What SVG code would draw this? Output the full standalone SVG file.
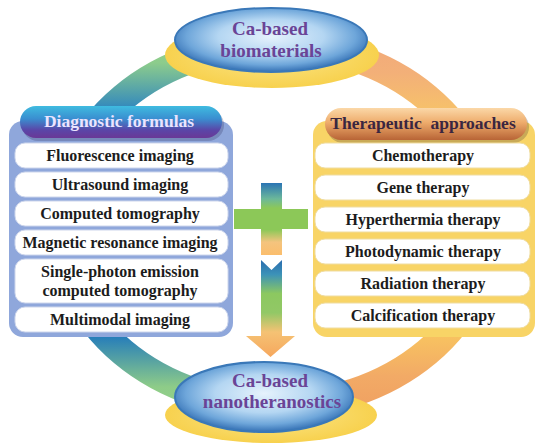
<svg xmlns="http://www.w3.org/2000/svg" width="556" height="446" viewBox="0 0 556 446">
<defs>
<style>
.row{fill:#ffffff;stroke:#cdd6ec;stroke-width:1}
.rrow{fill:#ffffff;stroke:#efdca0;stroke-width:1}
.t{font-family:"Liberation Serif","Times New Roman",serif;font-weight:bold;font-size:16px;fill:#1c1c1c;text-anchor:middle}
.h{font-family:"Liberation Serif","Times New Roman",serif;font-weight:bold;font-size:17.5px;text-anchor:middle}
.e{font-family:"Liberation Serif","Times New Roman",serif;font-weight:bold;font-size:19px;fill:#6a4496;text-anchor:middle}
</style>
<linearGradient id="gLeft" gradientUnits="userSpaceOnUse" x1="0" y1="45" x2="0" y2="405">
<stop offset="0" stop-color="#92d08a"/>
<stop offset="0.05" stop-color="#8ccc8c"/>
<stop offset="0.18" stop-color="#2f86bf"/>
<stop offset="0.5" stop-color="#1d72b8"/>
<stop offset="0.8" stop-color="#1f78bd"/>
<stop offset="0.95" stop-color="#8ecc88"/>
<stop offset="1" stop-color="#92d08a"/>
</linearGradient>
<linearGradient id="gRight" gradientUnits="userSpaceOnUse" x1="0" y1="45" x2="0" y2="405">
<stop offset="0" stop-color="#f2aa7a"/>
<stop offset="0.08" stop-color="#f3b078"/>
<stop offset="0.2" stop-color="#f7c468"/>
<stop offset="0.8" stop-color="#f8c460"/>
<stop offset="0.92" stop-color="#f2aa66"/>
<stop offset="1" stop-color="#f0a262"/>
</linearGradient>
<radialGradient id="gBlue" cx="0.5" cy="0.45" r="0.55">
<stop offset="0" stop-color="#e6f2fc"/>
<stop offset="0.5" stop-color="#b4d6f2"/>
<stop offset="0.8" stop-color="#6ea6da"/>
<stop offset="1" stop-color="#3470b4"/>
</radialGradient>
<radialGradient id="gYel" cx="0.5" cy="0.5" r="0.55">
<stop offset="0" stop-color="#fbe68a"/>
<stop offset="1" stop-color="#f7cf48"/>
</radialGradient>
<linearGradient id="gDiag" x1="0" y1="0" x2="0" y2="1">
<stop offset="0" stop-color="#3fbbe0"/>
<stop offset="0.4" stop-color="#3a8ed0"/>
<stop offset="0.75" stop-color="#5a46a8"/>
<stop offset="1" stop-color="#6a3896"/>
</linearGradient>
<linearGradient id="gTher" x1="0" y1="0" x2="0" y2="1">
<stop offset="0" stop-color="#fbd8a8"/>
<stop offset="0.45" stop-color="#eeac6c"/>
<stop offset="1" stop-color="#b86436"/>
</linearGradient>
<linearGradient id="gCross" gradientUnits="userSpaceOnUse" x1="0" y1="183" x2="0" y2="255">
<stop offset="0" stop-color="#2a74b4"/>
<stop offset="0.22" stop-color="#6cb89a"/>
<stop offset="0.35" stop-color="#8cc858"/>
<stop offset="0.65" stop-color="#8cc858"/>
<stop offset="0.82" stop-color="#f4c47e"/>
<stop offset="1" stop-color="#fbbd6c"/>
</linearGradient>
<linearGradient id="gArrow" gradientUnits="userSpaceOnUse" x1="0" y1="260" x2="0" y2="356">
<stop offset="0" stop-color="#2a6cae"/>
<stop offset="0.15" stop-color="#3c92b8"/>
<stop offset="0.35" stop-color="#8cc860"/>
<stop offset="0.55" stop-color="#92c866"/>
<stop offset="0.75" stop-color="#f5c274"/>
<stop offset="1" stop-color="#f6a85e"/>
</linearGradient>
</defs>
<rect width="556" height="446" fill="#ffffff"/>

<g id="connectors">
<path d="M 275 45 A 215 180 0 0 0 275 405" fill="none" stroke="url(#gLeft)" stroke-width="28"/>
<path d="M 275 45 A 215 180 0 0 1 275 405" fill="none" stroke="url(#gRight)" stroke-width="28"/>
<path d="M 261 260 L 271.5 270 L 282 260 L 282 336 L 295 336 L 270.5 357 L 246 336 L 261 336 Z" fill="url(#gArrow)"/>
</g>

<g id="biomaterials">
<ellipse cx="272" cy="55" rx="107" ry="33" fill="url(#gYel)"/>
<ellipse cx="271" cy="40" rx="96" ry="32" fill="url(#gBlue)" stroke="#3a78b8" stroke-width="2"/>
<text class="e" x="270" y="35">Ca-based</text>
<text class="e" x="271" y="57">biomaterials</text>
</g>

<g id="nanotheranostics">
<ellipse cx="271" cy="415" rx="106" ry="28" fill="url(#gYel)"/>
<ellipse cx="264" cy="397" rx="89" ry="35" fill="url(#gBlue)" stroke="#3a78b8" stroke-width="2"/>
<text class="e" x="270" y="387">Ca-based</text>
<text class="e" x="272" y="408">nanotheranostics</text>
</g>

<g id="diagnostic">
<rect x="9" y="121" width="224" height="216" rx="14" fill="#8fa7db"/>
<rect x="22" y="109" width="202" height="32" rx="16" fill="#2a2a5a" opacity="0.25"/>
<rect x="20" y="106" width="202" height="32" rx="16" fill="url(#gDiag)"/>
<text class="h" x="119" y="127" fill="#ebe4ff">Diagnostic formulas</text>
<rect class="row" x="15" y="143" width="213" height="25" rx="10"/>
<rect class="row" x="15" y="172" width="213" height="25" rx="10"/>
<rect class="row" x="15" y="201" width="213" height="25" rx="10"/>
<rect class="row" x="15" y="230" width="213" height="25" rx="10"/>
<rect class="row" x="15" y="259" width="213" height="44" rx="10"/>
<rect class="row" x="15" y="307" width="213" height="25" rx="10"/>
<text class="t" x="120" y="161">Fluorescence imaging</text>
<text class="t" x="120" y="190">Ultrasound imaging</text>
<text class="t" x="120" y="219">Computed tomography</text>
<text class="t" x="120" y="248">Magnetic resonance imaging</text>
<text class="t" x="120" y="277">Single-photon emission</text>
<text class="t" x="120" y="296">computed tomography</text>
<text class="t" x="120" y="325">Multimodal imaging</text>
</g>

<g id="therapeutic">
<rect x="313" y="121" width="222" height="216" rx="14" fill="#f8d466"/>
<rect x="327" y="111" width="202" height="32" rx="16" fill="#3a2a2a" opacity="0.25"/>
<rect x="325" y="108" width="202" height="32" rx="16" fill="url(#gTher)"/>
<text class="h" x="423" y="129" fill="#3a2640" xml:space="preserve">Therapeutic  approaches</text>
<rect class="rrow" x="315" y="143" width="215" height="25" rx="10"/>
<rect class="rrow" x="315" y="175" width="215" height="25" rx="10"/>
<rect class="rrow" x="315" y="207" width="215" height="25" rx="10"/>
<rect class="rrow" x="315" y="239" width="215" height="25" rx="10"/>
<rect class="rrow" x="315" y="271" width="215" height="25" rx="10"/>
<rect class="rrow" x="315" y="303" width="215" height="25" rx="10"/>
<text class="t" x="423" y="161">Chemotherapy</text>
<text class="t" x="423" y="193">Gene therapy</text>
<text class="t" x="423" y="225">Hyperthermia therapy</text>
<text class="t" x="423" y="257">Photodynamic therapy</text>
<text class="t" x="423" y="289">Radiation therapy</text>
<text class="t" x="423" y="321">Calcification therapy</text>
</g>

<g id="plus">
<path d="M 261 183 H 282 V 209 H 308 V 229 H 282 V 255 H 261 V 229 H 234 V 209 H 261 Z" fill="url(#gCross)"/>
</g>
</svg>
